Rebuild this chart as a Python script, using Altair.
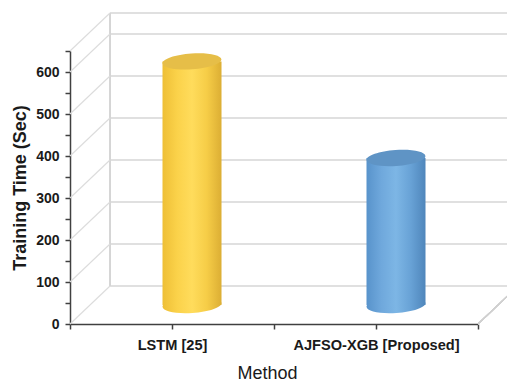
import altair as alt
import pandas as pd

# Training time per method (seconds)
methods = ["LSTM [25]", "AJFSO-XGB [Proposed]"]
train_time = [580, 350]

# Value axis ticks and wall grid levels
major_ticks = [0, 100, 200, 300, 400, 500, 600]
minor_ticks = [50, 150, 250, 350, 450, 550, 650]
axis_top = 650

# Cylinder shading (left -> right) and cap colour per method
body_stops = [
    ["#eebf36", "#fbd24a", "#ffdc5c", "#f6cd47", "#dcae34"],
    ["#5893cb", "#6fa8dc", "#7db6e5", "#68a2d6", "#4f86bb"],
]
cap_colors = ["#e6be48", "#5f94c5"]

FONT = "Liberation Sans"
TEXT = "#1a1a1a"
AXIS = "#404040"
WALL = "#d6d6d6"

# pseudo-3D depth of the box and cylinder size (pixels)
DX, DY = 40, -38
CYL_W = 59
ELLIPSE = ("M-1,0C-1,-0.149,-0.552,-0.27,0,-0.27C0.552,-0.27,1,-0.149,1,0"
           "C1,0.149,0.552,0.27,0,0.27C-0.552,0.27,-1,0.149,-1,0Z")

bars = pd.DataFrame({
    "method": methods,
    "slot": [i + 0.5 for i in range(len(methods))],
    "time": train_time,
})
walls = pd.DataFrame({"level": major_ticks + [axis_top]})

x_scale = alt.Scale(domain=[0, len(methods)], nice=False, zero=False)
y_scale = alt.Scale(domain=[0, axis_top], nice=False)

label_expr = "".join(
    f"datum.value == {i + 0.5} ? '{m}' : " for i, m in enumerate(methods)
) + "''"

x_axis = alt.Axis(
    values=[i * 0.5 for i in range(2 * len(methods) + 1)],
    labelExpr=label_expr, labelOverlap=False, labelFlush=False,
    title="Method", titleFont=FONT, titleFontSize=18, titleFontWeight="normal",
    titleColor=TEXT, titlePadding=13, titleX=197,
    labelFont=FONT, labelFontSize=14.6, labelFontWeight="bold", labelColor=TEXT,
    labelPadding=8, tickSize=5, tickColor=AXIS, tickWidth=1.5,
    domainColor=AXIS, domainWidth=1.5, grid=False,
)
y_axis = alt.Axis(
    values=sorted(major_ticks + minor_ticks),
    labelExpr="datum.value % 100 == 0 && datum.value <= 600 ? datum.label : ''",
    labelOverlap=False, labelFlush=False,
    title="Training Time (Sec)", titleFont=FONT, titleFontSize=18,
    titleFontWeight="bold", titleColor=TEXT, titlePadding=6,
    labelFont=FONT, labelFontSize=14, labelFontWeight="bold", labelColor=TEXT,
    labelPadding=6, tickSize=5, tickColor=AXIS, tickWidth=1.5,
    domainColor=AXIS, domainWidth=1.5, grid=False,
)


def xd(v):
    return alt.XDatum(v, type="quantitative", scale=x_scale, axis=x_axis)


def yd(v):
    return alt.YDatum(v, type="quantitative", scale=y_scale, axis=y_axis)


# back wall grid lines
back_grid = alt.Chart(walls).mark_rule(
    color=WALL, strokeWidth=1.4,
    xOffset=DX, x2Offset=DX, yOffset=DY, y2Offset=DY,
).encode(
    x=xd(0),
    x2=alt.X2Datum(len(methods)),
    y=alt.Y("level:Q", scale=y_scale, axis=y_axis),
)

# back wall left edge
back_edge = alt.Chart(walls).mark_rule(
    color=WALL, strokeWidth=1.2,
    xOffset=DX, x2Offset=DX, yOffset=DY, y2Offset=DY,
).encode(
    x=xd(0),
    y=yd(0),
    y2=alt.Y2Datum(axis_top),
)

# side wall grid lines running from the front axis to the back wall
side_grid = alt.Chart(walls).mark_rule(
    color="#dcdcdc", strokeWidth=1.1,
    x2Offset=DX, y2Offset=DY,
).encode(
    x=xd(0),
    x2=alt.X2Datum(0),
    y=alt.Y("level:Q", scale=y_scale, axis=y_axis),
    y2="level:Q",
)

# right edge of the floor
floor_edge = alt.Chart(walls).mark_rule(
    color="#d0d0d0", strokeWidth=1.1,
    x2Offset=DX, y2Offset=DY,
).encode(
    x=xd(len(methods)),
    x2=alt.X2Datum(len(methods)),
    y=yd(0),
    y2=alt.Y2Datum(0),
)


def gradient(colors):
    n = len(colors) - 1
    return alt.LinearGradient(
        gradient="linear", x1=0, x2=1, y1=0, y2=0,
        stops=[alt.GradientStop(color=c, offset=k / n) for k, c in enumerate(colors)],
    )


layers = [back_grid, back_edge, side_grid, floor_edge]
for i, m in enumerate(methods):
    base = alt.Chart(bars).transform_filter(alt.datum.method == m)
    grad = gradient(body_stops[i])
    x_enc = alt.X("slot:Q", scale=x_scale, axis=x_axis)

    bottom = base.mark_point(
        shape=ELLIPSE, size=CYL_W ** 2, filled=True, opacity=1, fill=grad,
        strokeWidth=0, angle=356, xOffset=DX / 2, yOffset=DY / 2,
    ).encode(x=x_enc, y=yd(0))
    body = base.mark_bar(
        fill=grad, opacity=1,
        xOffset=DX / 2 - CYL_W / 2, x2Offset=DX / 2 + CYL_W / 2,
        yOffset=DY / 2, y2Offset=DY / 2,
    ).encode(
        x=x_enc,
        x2="slot:Q",
        y=alt.Y("time:Q", scale=y_scale, axis=y_axis),
        y2=alt.Y2Datum(0),
    )
    top = base.mark_point(
        shape=ELLIPSE, size=CYL_W ** 2, filled=True, opacity=1,
        fill=cap_colors[i], strokeWidth=0, angle=356,
        xOffset=DX / 2, yOffset=DY / 2,
    ).encode(x=x_enc, y=alt.Y("time:Q", scale=y_scale, axis=y_axis))
    layers += [bottom, body, top]

chart = alt.layer(*layers).properties(
    width=408, height=273,
    autosize=alt.AutoSizeParams(type="none"),
    padding={"left": 70, "top": 51, "right": 29, "bottom": 59},
    background="white",
).configure_view(stroke=None)

chart.save("out.html", embed_options={"renderer": "svg", "actions": False})
